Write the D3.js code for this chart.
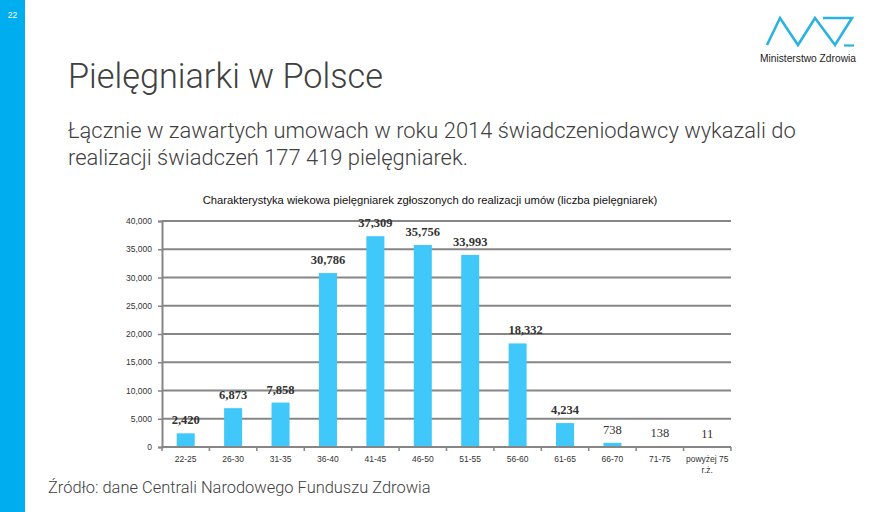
<!DOCTYPE html>
<html><head><meta charset="utf-8">
<script src="https://cdn.jsdelivr.net/npm/d3@7"></script>
<style>
html,body{margin:0;padding:0;background:#fff;}
svg{display:block;}
</style></head>
<body>
<svg id="c" width="875" height="512"></svg>
<script>
const categories = ["22-25","26-30","31-35","36-40","41-45","46-50","51-55","56-60","61-65","66-70","71-75","powyżej 75|r.ż."];
const values = [2420, 6873, 7858, 30786, 37309, 35756, 33993, 18332, 4234, 738, 138, 11];
const yTicks = [0, 5000, 10000, 15000, 20000, 25000, 30000, 35000, 40000];
const pageNumber = "22";
const title = "Pielęgniarki w Polsce";
const subtitleLines = ["Łącznie w zawartych umowach w roku 2014 świadczeniodawcy wykazali do", "realizacji świadczeń 177 419 pielęgniarek."];
const chartTitle = "Charakterystyka wiekowa pielęgniarek zgłoszonych do realizacji umów (liczba pielęgniarek)";
const source = "Źródło: dane Centrali Narodowego Funduszu Zdrowia";
const logoText = "Ministerstwo Zdrowia";

const svg = d3.select("#c");
const fmt = d3.format(",");
const lightFont = "Roboto, Open Sans, sans-serif";

function fit(sel, w){
  const n = sel.node();
  const fs = parseFloat(sel.attr("font-size"));
  const cur = n.getComputedTextLength();
  if (cur > 0) sel.attr("font-size", (fs * w / cur).toFixed(2));
  return sel;
}

// left stripe
svg.append("rect").attr("x",0).attr("y",0).attr("width",25).attr("height",512).attr("fill","#00aeef");
svg.append("text").attr("x",12.5).attr("y",18).attr("text-anchor","middle")
  .attr("font-family","Liberation Sans, Arial").attr("font-size",8.5).attr("fill","#fff").text(pageNumber);

// logo
const logoPts = [[767,45],[780,18],[798,45],[815,18],[835,45],[852,18],[823,18]];
svg.append("path").attr("d", d3.line()(logoPts)).attr("fill","none")
  .attr("stroke","#2bb3e0").attr("stroke-width",2.6).attr("stroke-linejoin","miter");
svg.append("line").attr("x1",844).attr("x2",854).attr("y1",45.5).attr("y2",45.5)
  .attr("stroke","#2bb3e0").attr("stroke-width",2.2);
fit(svg.append("text").attr("x",760).attr("y",62).attr("font-family","Liberation Sans Narrow, Liberation Sans, Arial")
  .attr("font-size",10).attr("fill","#222").text(logoText), 96);

// titles
fit(svg.append("text").attr("x",68).attr("y",88).attr("font-family",lightFont).attr("font-weight",300)
  .attr("font-size",30).attr("fill","#404040").text(title), 315);
const subs = subtitleLines.map((t,i)=> svg.append("text").attr("x",68).attr("y",138 + i*27)
  .attr("font-family",lightFont).attr("font-weight",300)
  .attr("font-size",21).attr("fill","#404040").text(t));
fit(subs[0], 728);
subs[1].attr("font-size", subs[0].attr("font-size"));
fit(svg.append("text").attr("x",48).attr("y",493).attr("font-family",lightFont).attr("font-weight",300)
  .attr("font-size",16).attr("fill","#404040").text(source), 383);

// chart title
const ct = svg.append("text").attr("x",430).attr("y",204).attr("text-anchor","middle")
  .attr("font-family","Liberation Sans, Arial").attr("font-size",10.5).attr("fill","#111").text(chartTitle);
fit(ct, 455);

// scales
const x = d3.scaleBand().domain(categories).range([162, 731]).paddingInner(0.62).paddingOuter(0.31);
const y = d3.scaleLinear().domain([0, 40000]).range([447, 221]);
const step = x.step();

// gridlines
svg.append("g").selectAll("line").data(yTicks.filter(d=>d>0)).join("line")
  .attr("x1",162).attr("x2",731).attr("y1",d=>y(d)).attr("y2",d=>y(d))
  .attr("stroke","#868686").attr("stroke-width",2);

// y axis
const yAxis = svg.append("g").attr("transform","translate(162,0)")
  .call(d3.axisLeft(y).tickValues(yTicks).tickFormat(fmt).tickSize(4).tickPadding(6));
yAxis.select(".domain").attr("stroke","#868686").attr("stroke-width",2);
yAxis.selectAll(".tick line").attr("stroke","#868686").attr("stroke-width",1.5);
yAxis.selectAll(".tick text").attr("font-family","Liberation Sans, Arial").attr("font-size",8.5).attr("fill","#333");

// bars
svg.append("g").selectAll("rect").data(values).join("rect")
  .attr("x",(d,i)=>x(categories[i])).attr("width",x.bandwidth())
  .attr("y",d=>y(d)).attr("height",d=>y(0)-y(d))
  .attr("fill","#40c8fa");

// x axis
svg.append("line").attr("x1",162).attr("x2",731).attr("y1",y(0)).attr("y2",y(0))
  .attr("stroke","#868686").attr("stroke-width",2);
const bounds = d3.range(categories.length+1).map(i=>162 + i*step);
svg.append("g").selectAll("line").data(bounds).join("line")
  .attr("x1",d=>d).attr("x2",d=>d).attr("y1",y(0)).attr("y2",y(0)+4)
  .attr("stroke","#868686").attr("stroke-width",1.5);
svg.append("g").selectAll("text").data(categories).join("text")
  .attr("x",d=>x(d)+x.bandwidth()/2).attr("y",462).attr("text-anchor","middle")
  .attr("font-family","Liberation Sans, Arial").attr("font-size",8.5).attr("fill","#333")
  .each(function(d){
    const parts = d.split("|");
    d3.select(this).selectAll("tspan").data(parts).join("tspan")
      .attr("x", x(d)+x.bandwidth()/2).attr("dy",(p,j)=>j? 11 : 0).text(p=>p);
  });

// data labels
svg.append("g").selectAll("text").data(values).join("text")
  .attr("x",(d,i)=>x(categories[i])+x.bandwidth()/2 + (categories[i]==="56-60"?8:0))
  .attr("y",d=>y(d)-9).attr("text-anchor","middle")
  .attr("font-family","Liberation Serif, DejaVu Serif, serif")
  .attr("font-weight",d=>d>=1000?"bold":"normal")
  .attr("font-size",12.5).attr("fill","#333").text(d=>fmt(d));
</script>
</body></html>
